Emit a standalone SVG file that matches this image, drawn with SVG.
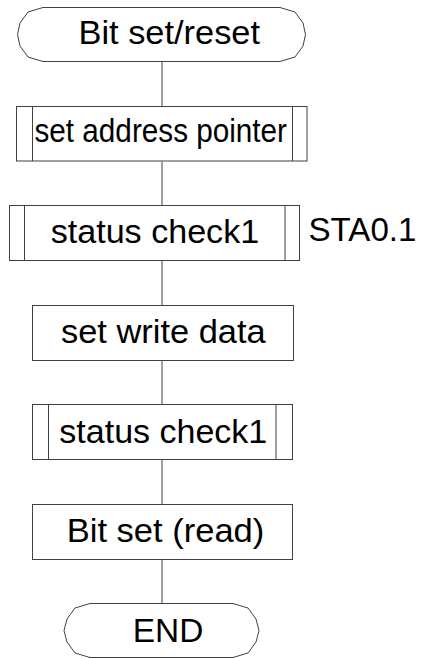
<svg xmlns="http://www.w3.org/2000/svg" width="421" height="658" viewBox="0 0 421 658">
<style>
.s{fill:#fff;stroke:#404040;stroke-width:1}
.l{stroke:#404040;stroke-width:1;fill:none}
.t{font-family:"Liberation Sans",Arial,sans-serif;font-size:34px;fill:#000}
</style>
<rect width="421" height="658" fill="#fff"/>
<g id="connectors">
<line class="l" x1="162" y1="61.5" x2="162" y2="106.5"/>
<line class="l" x1="162" y1="161.5" x2="162" y2="205.5"/>
<line class="l" x1="162" y1="260.5" x2="162" y2="305.5"/>
<line class="l" x1="162" y1="360.5" x2="162" y2="404.5"/>
<line class="l" x1="162" y1="459.5" x2="162" y2="504.5"/>
<line class="l" x1="162" y1="559.5" x2="162" y2="603.5"/>
</g>
<g id="start">
<polygon class="s" points="43,7.5 280,7.5 295,12 303,23 305.5,34.5 303,46 295,57 280,61.5 43,61.5 28,57 20,46 17.5,34.5 20,23 28,12"/>
<text class="t" x="78.5" y="44.3" textLength="181.5" lengthAdjust="spacingAndGlyphs">Bit set/reset</text>
</g>
<g id="setAddr">
<rect class="s" x="16.5" y="106.5" width="290.5" height="54.5"/>
<line class="l" x1="32.5" y1="106.5" x2="32.5" y2="161"/>
<line class="l" x1="292.5" y1="106.5" x2="292.5" y2="161"/>
<text class="t" x="34.5" y="141.7" textLength="252.5" lengthAdjust="spacingAndGlyphs">set address pointer</text>
</g>
<g id="status1">
<rect class="s" x="9.5" y="205.5" width="290" height="55"/>
<line class="l" x1="24.5" y1="205.5" x2="24.5" y2="260.5"/>
<line class="l" x1="285" y1="205.5" x2="285" y2="260.5"/>
<text class="t" x="50.7" y="243.3" textLength="208.5" lengthAdjust="spacingAndGlyphs">status check1</text>
<text class="t" x="308.5" y="241" textLength="108" lengthAdjust="spacingAndGlyphs">STA0.1</text>
</g>
<g id="writeData">
<rect class="s" x="32.5" y="305.5" width="261" height="55"/>
<text class="t" x="61" y="343.3" textLength="204.7" lengthAdjust="spacingAndGlyphs">set write data</text>
</g>
<g id="status2">
<rect class="s" x="32.5" y="404.5" width="260" height="55"/>
<line class="l" x1="48.5" y1="404.5" x2="48.5" y2="459.5"/>
<line class="l" x1="276" y1="404.5" x2="276" y2="459.5"/>
<text class="t" x="59.3" y="443.3" textLength="208" lengthAdjust="spacingAndGlyphs">status check1</text>
</g>
<g id="bitSet">
<rect class="s" x="32.5" y="504.5" width="260" height="55"/>
<text class="t" x="66.7" y="541.7" textLength="197.6" lengthAdjust="spacingAndGlyphs">Bit set (read)</text>
</g>
<g id="end">
<polygon class="s" points="90,603.5 233,603.5 248,608 256,619 259,630.5 256,642 248,653 233,657.5 90,657.5 75,653 67,642 64,630.5 67,619 75,608"/>
<text class="t" x="132.7" y="641.7" textLength="70.6" lengthAdjust="spacingAndGlyphs">END</text>
</g>
</svg>
